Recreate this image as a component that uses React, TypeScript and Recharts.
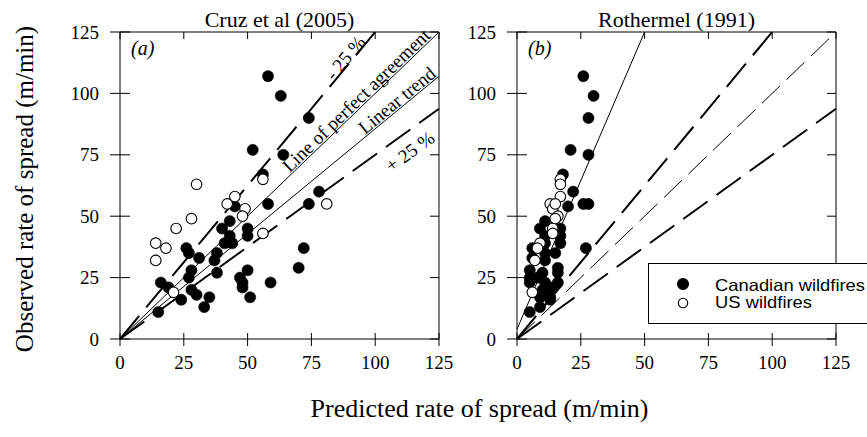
import React from 'react';
import { ScatterChart, Scatter, XAxis, YAxis, ReferenceLine, ReferenceDot, Legend } from 'recharts';

const axisTicks = [0, 25, 50, 75, 100, 125];

const cruzCanadian: [number, number][] = [
  [58, 107], [63, 99], [74, 90], [52, 77], [64, 75], [56, 67], [78, 60], [45, 54], [58, 55], [74, 55],
  [43, 48], [40, 45], [50, 45], [50, 42], [43, 42], [41, 39], [44, 39], [26, 37], [27, 35], [31, 33],
  [38, 35], [37, 32], [38, 27], [28, 28], [27, 25], [16, 23], [19, 21], [24, 16], [28, 20], [30, 18],
  [35, 17], [33, 13], [15, 11], [50, 28], [47, 25], [48, 23], [48, 21], [51, 17], [59, 23], [72, 37],
  [70, 29],
];
const cruzUS: [number, number][] = [
  [56, 65], [30, 63], [45, 58], [42, 55], [49, 53], [48, 50], [81, 55], [28, 49], [22, 45], [56, 43],
  [14, 39], [18, 37], [14, 32], [21, 19],
];
const rothCanadian: [number, number][] = [
  [26, 107], [30, 99], [28, 90], [21, 77], [28, 75], [18, 67], [22, 60], [28, 55], [26, 55], [20, 54],
  [11, 48], [9, 45], [17, 45], [17, 42], [11, 42], [11, 39], [17, 39], [6, 37], [11, 35], [6, 33],
  [15, 35], [11, 32], [10, 27], [5, 28], [5, 25], [5, 23], [14, 21], [13, 16], [10, 20], [9, 18],
  [13, 17], [9, 13], [5, 11], [16, 29], [8, 25], [16, 23], [12, 21], [9, 17], [11, 23], [27, 37],
  [16, 27],
];
const rothUS: [number, number][] = [
  [17, 65], [17, 63], [17, 58], [13, 55], [14, 53], [16, 50], [15, 55], [15, 49], [14, 45], [14, 43],
  [9, 39], [8, 37], [7, 32], [6, 19],
];

const minus25Line: [number, number][] = [[0, 0], [100, 125]];
const perfectLine: [number, number][] = [[0, 0], [125, 125]];
const plus25Line: [number, number][] = [[0, 0], [125, 93.75]];
const cruzTrendLine: [number, number][] = [[0, 0], [125, 107]];
const rothTrendLine: [number, number][] = [[0, 4], [50, 125]];

const seriesNames = ['Canadian wildfires', 'US wildfires'];
const panelTitles = ['Cruz et al (2005)', 'Rothermel (1991)'];
const panelTags = ['(a)', '(b)'];
const xTitle = 'Predicted rate of spread (m/min)';
const yTitle = 'Observed rate of spread (m/min)';

const SERIF = '"Liberation Serif", "Times New Roman", serif';
const SANS = '"Liberation Sans", Arial, sans-serif';

const toPts = (a: [number, number][]) => a.map(([x, y]) => ({ x, y }));
const seg = (a: [number, number][]) => a.map(([x, y]) => ({ x, y }));

const BottomTick = (p: any) => (
  <g>
    <line x1={p.x} x2={p.x} y1={p.y - 6} y2={p.y + 7} stroke="#000" />
    <text x={p.x} y={p.y + 30} textAnchor="middle" fontSize={19} fontFamily={SERIF} fill="#000">
      {p.payload.value}
    </text>
  </g>
);
const LeftTick = (p: any) => (
  <g>
    <line x1={p.x - 10} x2={p.x + 10} y1={p.y} y2={p.y} stroke="#000" />
    <text x={p.x - 21} y={p.y + 6.5} textAnchor="end" fontSize={19} fontFamily={SERIF} fill="#000">
      {p.payload.value}
    </text>
  </g>
);
const TopTick = (p: any) => <line x1={p.x} x2={p.x} y1={p.y} y2={p.y + 7} stroke="#000" />;
const RightTick = (p: any) => <line x1={p.x - 9} x2={p.x} y1={p.y} y2={p.y} stroke="#000" />;

const FilledDot = (p: any) => <circle cx={p.cx} cy={p.cy} r={5.6} fill="#000" stroke="#000" strokeWidth={0.5} />;
const OpenDot = (p: any) => <circle cx={p.cx} cy={p.cy} r={5.3} fill="#fff" stroke="#000" strokeWidth={1.1} />;

const lineLabel = (text: string, angle: number) => (props: any) => {
  const vb = props.viewBox || {};
  const cx = (vb.x || 0) + (vb.width || 0) / 2;
  const cy = (vb.y || 0) + (vb.height || 0) / 2;
  return (
    <text
      x={cx}
      y={cy}
      transform={`rotate(${angle} ${cx} ${cy})`}
      textAnchor="middle"
      dominantBaseline="central"
      fontSize={19}
      fontFamily={SERIF}
      fill="#000"
    >
      {text}
    </text>
  );
};

const renderLegend = (props: any) => {
  const items = props.payload || [];
  return (
    <svg width={240} height={62} style={{ display: 'block' }}>
      <rect x={0.5} y={0.5} width={260} height={60} fill="#fff" stroke="#000" />
      {items.map((e: any, i: number) => (
        <g key={i}>
          <circle cx={35} cy={21 + i * 19} r={i === 0 ? 5.5 : 4.7} fill={e.color} stroke="#000" strokeWidth={1.1} />
          <text x={67} y={28 + i * 16.8} fontSize={16.5} fontFamily={SANS} fill="#000" textLength={i === 0 ? 150 : 97} lengthAdjust="spacingAndGlyphs">
            {e.value}
          </text>
        </g>
      ))}
    </svg>
  );
};

const axes = () => [
  <XAxis key="xb" xAxisId="b" type="number" dataKey="x" domain={[0, 125]} ticks={axisTicks} interval={0}
    height={30} tickSize={0} tickMargin={0} tickLine={false} tick={BottomTick} axisLine={{ stroke: '#000' }} allowDataOverflow />,
  <XAxis key="xt" xAxisId="t" orientation="top" type="number" dataKey="x" domain={[0, 125]} ticks={axisTicks} interval={0}
    height={10} tickSize={0} tickMargin={0} tickLine={false} tick={TopTick} axisLine={{ stroke: '#000' }} allowDataOverflow />,
  <YAxis key="yl" yAxisId="l" type="number" dataKey="y" domain={[0, 125]} ticks={axisTicks} interval={0}
    width={60} tickSize={0} tickMargin={0} tickLine={false} tick={LeftTick} axisLine={{ stroke: '#000' }} allowDataOverflow />,
  <YAxis key="yr" yAxisId="r" orientation="right" type="number" dataKey="y" domain={[0, 125]} ticks={axisTicks} interval={0}
    width={10} tickSize={0} tickMargin={0} tickLine={false} tick={RightTick} axisLine={{ stroke: '#000' }} allowDataOverflow />,
];

export default function App() {
  return (
    <div style={{ position: 'absolute', left: 0, top: 0, width: 867, height: 437, overflow: 'hidden', background: '#fff' }}>
      <div style={{ position: 'absolute', left: 0, top: 0 }}>
        <ScatterChart width={460} height={437} margin={{ top: 22, left: 60, right: 11, bottom: 68 }}>
          {axes()}
          <ReferenceLine xAxisId="b" yAxisId="l" segment={seg(perfectLine)} stroke="#000" strokeWidth={1} ifOverflow="visible" />
          <ReferenceLine xAxisId="b" yAxisId="l" segment={seg(cruzTrendLine)} stroke="#000" strokeWidth={1} ifOverflow="visible" />
          <ReferenceLine xAxisId="b" yAxisId="l" segment={seg(minus25Line)} stroke="#000" strokeWidth={2} strokeDasharray="30 11" ifOverflow="visible" />
          <ReferenceLine xAxisId="b" yAxisId="l" segment={seg(plus25Line)} stroke="#000" strokeWidth={2} strokeDasharray="30 11" ifOverflow="visible" />
          <Scatter name={seriesNames[0]} xAxisId="b" yAxisId="l" data={toPts(cruzCanadian)} fill="#000" shape={FilledDot} isAnimationActive={false} />
          <Scatter name={seriesNames[1]} xAxisId="b" yAxisId="l" data={toPts(cruzUS)} fill="#fff" shape={OpenDot} isAnimationActive={false} />
          <ReferenceDot xAxisId="b" yAxisId="l" x={88.2} y={114.5} r={0} stroke="none" fill="none" label={lineLabel('- 25 %', -50.3)} />
          <ReferenceDot xAxisId="b" yAxisId="l" x={92.5} y={97.2} r={0} stroke="none" fill="none" label={lineLabel('Line of perfect agreement', -43.9)} />
          <ReferenceDot xAxisId="b" yAxisId="l" x={108.5} y={97.2} r={0} stroke="none" fill="none" label={lineLabel('Linear trend', -39.5)} />
          <ReferenceDot xAxisId="b" yAxisId="l" x={113.6} y={76.3} r={0} stroke="none" fill="none" label={lineLabel('+ 25 %', -35.8)} />
        </ScatterChart>
      </div>
      <div style={{ position: 'absolute', left: 430, top: 0 }}>
        <ScatterChart width={437} height={437} margin={{ top: 22, left: 27, right: 21, bottom: 68 }}>
          {axes()}
          <ReferenceLine xAxisId="b" yAxisId="l" segment={seg(perfectLine)} stroke="#000" strokeWidth={1} strokeDasharray="25 9" ifOverflow="visible" />
          <ReferenceLine xAxisId="b" yAxisId="l" segment={seg(minus25Line)} stroke="#000" strokeWidth={2} strokeDasharray="30 11" ifOverflow="visible" />
          <ReferenceLine xAxisId="b" yAxisId="l" segment={seg(plus25Line)} stroke="#000" strokeWidth={2} strokeDasharray="30 11" ifOverflow="visible" />
          <ReferenceLine xAxisId="b" yAxisId="l" segment={seg(rothTrendLine)} stroke="#000" strokeWidth={1} ifOverflow="visible" />
          <Scatter name={seriesNames[0]} xAxisId="b" yAxisId="l" data={toPts(rothCanadian)} fill="#000" shape={FilledDot} legendType="circle" isAnimationActive={false} />
          <Scatter name={seriesNames[1]} xAxisId="b" yAxisId="l" data={toPts(rothUS)} fill="#fff" shape={OpenDot} legendType="circle" isAnimationActive={false} />
          <Legend layout="vertical" align="center" verticalAlign="middle" content={renderLegend}
            wrapperStyle={{ position: 'absolute', left: 218, top: 263, width: 240, height: 62, bottom: 'auto', right: 'auto' }} />
        </ScatterChart>
      </div>
      <svg width={867} height={437} style={{ position: 'absolute', left: 0, top: 0, pointerEvents: 'none' }}>
        <text x={279.5} y={27} textAnchor="middle" fontSize={22} fontFamily={SERIF} fill="#000">{panelTitles[0]}</text>
        <text x={676.5} y={27} textAnchor="middle" fontSize={22} fontFamily={SERIF} fill="#000">{panelTitles[1]}</text>
        <text x={131} y={55} fontSize={20} fontStyle="italic" fontFamily={SERIF} fill="#000">{panelTags[0]}</text>
        <text x={528} y={55} fontSize={20} fontStyle="italic" fontFamily={SERIF} fill="#000">{panelTags[1]}</text>
        <text x={479.5} y={417} textAnchor="middle" fontSize={26} fontFamily={SERIF} fill="#000">{xTitle}</text>
        <text x={33} y={189} transform="rotate(-90 33 189)" textAnchor="middle" fontSize={25} fontFamily={SERIF} fill="#000">{yTitle}</text>
      </svg>
    </div>
  );
}
